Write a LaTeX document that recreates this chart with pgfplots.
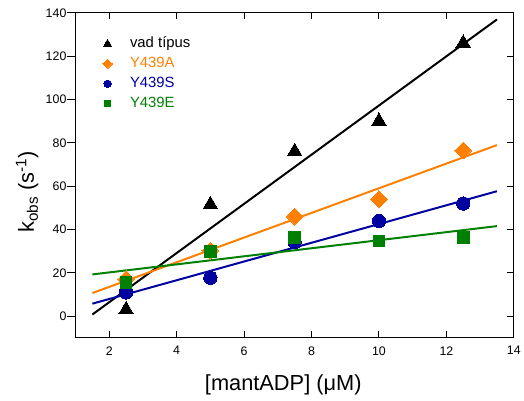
\documentclass[border=0pt]{standalone}
\usepackage{pgfplots}
\pgfplotsset{compat=1.18}
\usepackage{fontspec}
\setmainfont{Liberation Sans}
\definecolor{cOr}{RGB}{255,128,0}
\definecolor{cBl}{RGB}{0,0,160}
\definecolor{cGr}{RGB}{0,128,0}
\begin{document}
\begin{tikzpicture}
\pgfplotsset{
  common/.style={scale only axis, width=441bp, height=327bp,
    xmin=1, xmax=14, ymin=-10, ymax=140,
    xtick={2,4,...,14}, ytick={0,20,...,140},
    axis line style={line width=1bp},
    major tick style={line width=1bp, black},
    /pgf/number format/assume math mode=true,
    tick label style={font=\fontsize{12.5}{14}\selectfont}},
}
\begin{axis}[common, name=main, tick align=inside, major tick length=6.5bp,
  ytick pos=right, yticklabels={},
  xticklabel style={yshift=-5bp},
  xlabel={[mantADP] (μM)},
  xlabel style={font=\fontsize{22}{26}\selectfont, at={(axis description cs:0.474,-0.163)}, anchor=base},
  legend cell align=left,
  legend image code/.code={\draw[#1, every mark/.append style={scale=0.55}] plot coordinates {(0bp,0bp)};},
  legend style={draw=none, fill=none, at={(axis description cs:0.062,0.925)}, anchor=north west,
    inner sep=0pt, row sep=7bp, column sep=18bp,
    nodes={inner sep=0pt, text height=10bp, text depth=3bp},
    font=\fontsize{15}{17}\selectfont},
]
\addplot[only marks, mark=triangle*, mark size=8.5bp, black, mark options={line width=0pt}]
  coordinates {(2.5,3) (5,51.5) (7.5,76) (10,90) (12.5,126)};
\addlegendentry{vad típus}
\addplot[only marks, mark=square*, mark size=6bp, cOr, mark options={rotate=45, line width=0pt}]
  coordinates {(2.5,17) (5,30.3) (7.5,46) (10,54) (12.5,76.5)};
\addlegendentry{\textcolor{cOr}{Y439A}}
\addplot[only marks, mark=*, mark size=6.7bp, cBl, mark options={line width=0pt}]
  coordinates {(2.5,11) (5,17.8) (7.5,34.2) (10,44) (12.5,52)};
\addlegendentry{\textcolor{cBl}{Y439S}}
\addplot[only marks, mark=square*, mark size=5.9bp, cGr, mark options={line width=0pt}]
  coordinates {(2.5,15.5) (5,30) (7.5,36.3) (10,34.7) (12.5,36.2)};
\addlegendentry{\textcolor{cGr}{Y439E}}
\addplot[forget plot, black, line width=2bp] coordinates {(1.5,0.8) (13.5,137)};
\addplot[forget plot, cOr, line width=2bp] coordinates {(1.5,10.7) (13.5,79)};
\addplot[forget plot, cBl, line width=2bp] coordinates {(1.5,5.8) (13.5,57.7)};
\addplot[forget plot, cGr, line width=2bp] coordinates {(1.5,19.3) (13.5,41.6)};
\end{axis}
\begin{axis}[common, axis x line=none, axis y line*=left, tick align=outside, major tick length=9bp,
  yticklabel style={inner sep=0pt},
  ylabel={k\textsubscript{obs} (s\textsuperscript{-1})},
  ylabel style={font=\fontsize{22}{26}\selectfont, at={(axis description cs:-0.0952,0.449)}, anchor=base},
]
\end{axis}
\path (main.south west) +(-76bp,-63.3bp) (main.north east) +(7bp,13bp);
\end{tikzpicture}
\end{document}
